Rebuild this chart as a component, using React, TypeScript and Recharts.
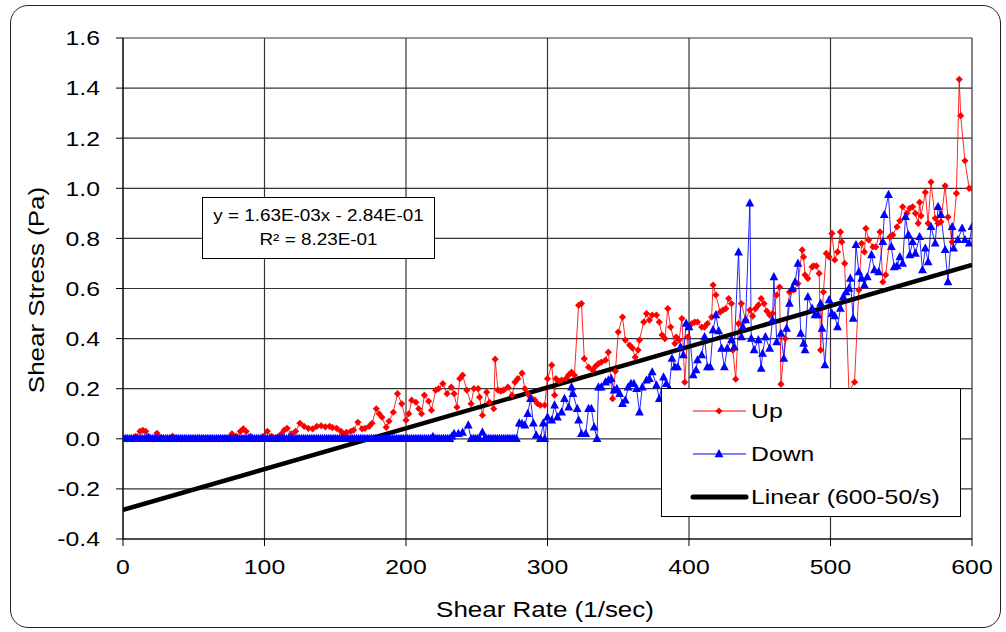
import { CartesianGrid, Legend, Line, LineChart, XAxis, YAxis } from 'recharts'

// Shear rate (1/sec) ticks and shear stress (Pa) ticks
const RATE_TICKS = [0, 100, 200, 300, 400, 500, 600]
const STRESS_TICKS = [-0.4, -0.2, 0, 0.2, 0.4, 0.6, 0.8, 1.0, 1.2, 1.4, 1.6]

// [shear rate, shear stress]
const UP: [number, number][] = [
  [0, 0], [3, 0], [6, 0], [9, 0.01], [12, 0.03], [14, 0.034], [16, 0.03], [18, 0.01],
  [21, 0], [24, 0.022], [27, 0.005], [30, 0], [33, 0], [35, 0.01], [38, 0], [41, 0],
  [44, 0], [47, 0], [50, 0], [53, 0], [56, 0], [59, 0], [62, 0], [65, 0], [68, 0],
  [71, 0], [74, 0], [77, 0.02], [80, 0.01], [83, 0.03], [85, 0.04], [87, 0.03], [90, 0.01],
  [93, 0], [96, 0], [99, 0.01], [102, 0.03], [105, 0.01], [108, 0], [110, 0.01], [112, 0.02],
  [114, 0.035], [116, 0.042], [119, 0.02], [122, 0.03], [125, 0.062], [128, 0.05], [131, 0.042],
  [134, 0.04], [137, 0.05], [140, 0.052], [143, 0.048], [146, 0.05], [148, 0.045], [151, 0.042],
  [154, 0.03], [156, 0.02], [158, 0.026], [161, 0.03], [163, 0.035], [166, 0.066], [169, 0.04],
  [171, 0.042], [174, 0.05], [176, 0.062], [179, 0.12], [181, 0.1], [183, 0.086], [186, 0.046],
  [188, 0.07], [191, 0.106], [194, 0.18], [197, 0.14], [200, 0.074], [202, 0.1], [204, 0.154],
  [207, 0.146], [209, 0.12], [211, 0.1], [213, 0.174], [216, 0.15], [218, 0.114], [221, 0.194],
  [223, 0.2], [226, 0.22], [229, 0.18], [232, 0.206], [234, 0.18], [236, 0.126], [238, 0.24],
  [240, 0.254], [243, 0.194], [246, 0.14], [248, 0.2], [251, 0.2], [252, 0.166], [254, 0.094],
  [257, 0.186], [259, 0.146], [262, 0.12], [263, 0.318], [265, 0.194], [267, 0.19], [269, 0.194],
  [272, 0.206], [275, 0.174], [277, 0.226], [279, 0.24], [282, 0.262], [284, 0.2], [286, 0.18],
  [288, 0.166], [291, 0.154], [293, 0.14], [295, 0.134], [298, 0.134], [300, 0.24], [303, 0.294],
  [305, 0.174], [306, 0.24], [308, 0.23], [310, 0.234], [313, 0.24], [315, 0.255], [317, 0.266],
  [319, 0.254], [322, 0.533], [324, 0.54], [326, 0.32], [329, 0.286], [332, 0.274], [334, 0.29],
  [336, 0.3], [338, 0.306], [341, 0.314], [343, 0.346], [346, 0.16], [348, 0.27], [350, 0.426],
  [353, 0.486], [355, 0.394], [358, 0.374], [360, 0.362], [362, 0.326], [364, 0.354], [365, 0.394],
  [368, 0.466], [370, 0.5], [372, 0.474], [374, 0.494], [377, 0.494], [379, 0.466], [381, 0.414],
  [383, 0.4], [385, 0.52], [387, 0.446], [390, 0.38], [391, 0.406], [393, 0.394], [395, 0.48],
  [397, 0.226], [399, 0.406], [402, 0.46], [404, 0.466], [406, 0.466], [409, 0.446], [411, 0.446],
  [413, 0.46], [416, 0.486], [417, 0.614], [419, 0.574], [422, 0.506], [424, 0.514], [426, 0.52],
  [428, 0.56], [430, 0.54], [431, 0.354], [433, 0.238], [435, 0.46], [437, 0.54], [440, 0.474],
  [443, 0.514], [445, 0.49], [447, 0.52], [449, 0.534], [451, 0.56], [453, 0.54], [455, 0.51],
  [457, 0.494], [459, 0.5], [462, 0.574], [464, 0.606], [465, 0.218], [468, 0.4], [471, 0.586],
  [474, 0.594], [477, 0.62], [480, 0.754], [481, 0.726], [482, 0.654], [484, 0.64], [487, 0.686],
  [488, 0.69], [490, 0.69], [492, 0.66], [493, 0.354], [495, 0.586], [497, 0.74], [499, 0.726],
  [501, 0.82], [503, 0.714], [505, 0.746], [507, 0.826], [508, 0.786], [510, 0.7], [513, 0.19],
  [517, 0.226], [520, 0.594], [522, 0.78], [524, 0.746], [525, 0.84], [527, 0.794], [530, 0.766],
  [532, 0.766], [535, 0.826], [537, 0.626], [539, 0.654], [542, 0.806], [544, 0.814], [547, 0.846],
  [549, 0.87], [551, 0.926], [554, 0.9], [556, 0.92], [558, 0.926], [560, 0.9], [562, 0.86],
  [563, 0.944], [564, 0.89], [567, 0.984], [569, 0.86], [571, 1.025], [574, 0.88], [576, 0.86],
  [578, 0.866], [581, 1.01], [583, 0.885], [586, 0.786], [589, 0.98], [591, 1.435], [592, 1.29],
  [595, 1.11], [598, 1.0], [600, 1.0],
]

// [shear rate, shear stress] (dense flat band at zero below ~280/s)
const DOWN: [number, number][] = [
  [0, 0], [1.5, 0], [3, 0], [4.5, 0], [6, 0], [7.5, 0], [9, 0], [10.5, 0], [12, 0], [13.5, 0],
  [15, 0], [16.5, 0], [18, 0], [19.5, 0], [21, 0], [22.5, 0], [24, 0], [25.5, 0], [27, 0], [28.5, 0],
  [30, 0], [31.5, 0], [33, 0], [34.5, 0], [36, 0], [37.5, 0], [39, 0], [40.5, 0], [42, 0], [43.5, 0],
  [45, 0], [46.5, 0], [48, 0], [49.5, 0], [51, 0], [52.5, 0], [54, 0], [55.5, 0], [57, 0], [58.5, 0],
  [60, 0], [61.5, 0], [63, 0], [64.5, 0], [66, 0], [67.5, 0], [69, 0], [70.5, 0], [72, 0], [73.5, 0],
  [75, 0], [76.5, 0], [78, 0], [79.5, 0], [81, 0], [82.5, 0], [84, 0], [85.5, 0], [87, 0], [88.5, 0],
  [90, 0], [91.5, 0], [93, 0], [94.5, 0], [96, 0], [97.5, 0], [99, 0], [100.5, 0], [102, 0], [103.5, 0],
  [105, 0], [106.5, 0], [108, 0], [109.5, 0], [111, 0], [112.5, 0], [114, 0], [115.5, 0], [117, 0], [118.5, 0],
  [120, 0], [121.5, 0], [123, 0], [124.5, 0], [126, 0], [127.5, 0], [129, 0], [130.5, 0], [132, 0], [133.5, 0],
  [135, 0], [136.5, 0], [138, 0], [139.5, 0], [141, 0], [142.5, 0], [144, 0], [145.5, 0], [147, 0], [148.5, 0],
  [150, 0], [151.5, 0], [153, 0], [154.5, 0], [156, 0], [157.5, 0], [159, 0], [160.5, 0], [162, 0], [163.5, 0],
  [165, 0], [166.5, 0], [168, 0], [169.5, 0], [171, 0], [172.5, 0], [174, 0], [175.5, 0], [177, 0], [178.5, 0],
  [180, 0], [181.5, 0], [183, 0], [184.5, 0], [186, 0], [187.5, 0], [189, 0], [190.5, 0], [192, 0], [193.5, 0],
  [195, 0], [196.5, 0], [198, 0], [199.5, 0], [201, 0], [202.5, 0], [204, 0], [205.5, 0], [207, 0], [208.5, 0],
  [210, 0], [211.5, 0], [213, 0], [214.5, 0], [216, 0], [217.5, 0], [219, 0.008], [220.5, 0], [222, 0], [223.5, 0],
  [225, 0], [226.5, 0], [228, 0], [229.5, 0], [231, 0], [232.5, 0.01],
  [234, 0.02], [237, 0.02], [240, 0.025], [244, 0.054], [246, 0], [247.5, 0], [249, 0], [250.5, 0],
  [252, 0], [254, 0.026], [255.5, 0], [257, 0], [258.5, 0], [260, 0], [261.5, 0], [263, 0], [264.5, 0],
  [266, 0], [267.5, 0], [269, 0], [270.5, 0], [272, 0], [273.5, 0], [275, 0], [276.5, 0], [278, 0],
  [280, 0.062], [282, 0.06], [284, 0.054], [286, 0.1], [288, 0.16], [290, 0.062], [292, 0.014], [295, 0],
  [297, 0.062], [298, 0], [300, 0.086], [303, 0.074], [305, 0.134], [307, 0.086], [310, 0.106],
  [312, 0.16], [315, 0.126], [317, 0.206], [318, 0.18], [321, 0.12], [322, 0.074], [324, 0.02],
  [327, 0.02], [329, 0.12], [331, 0.12], [333, 0.046], [335, 0], [336, 0.206], [338, 0.206],
  [341, 0.226], [343, 0.234], [345, 0.24], [347, 0.194], [349, 0.2], [351, 0.18], [353, 0.14],
  [355, 0.154], [357, 0.206], [359, 0.22], [361, 0.22], [363, 0.2], [365, 0.106], [367, 0.206],
  [370, 0.234], [372, 0.24], [374, 0.266], [377, 0.214], [379, 0.16], [382, 0.246], [384, 0.22],
  [386, 0.2], [388, 0.32], [390, 0.286], [392, 0.286], [394, 0.366], [396, 0.334], [398, 0.46],
  [400, 0.446], [403, 0.254], [405, 0.274], [406, 0.314], [409, 0.334], [411, 0.406], [413, 0.286],
  [415, 0.286], [417, 0.434], [419, 0.494], [421, 0.43], [423, 0.36], [425, 0.286], [427, 0.36],
  [430, 0.394], [432, 0.366], [435, 0.745], [437, 0.406], [438, 0.446], [440, 0.474], [443, 0.94],
  [444, 0.4], [446, 0.354], [449, 0.394], [451, 0.28], [452, 0.34], [454, 0.406], [457, 0.36],
  [459, 0.474], [460, 0.646], [462, 0.386], [465, 0.42], [467, 0.32], [469, 0.44], [471, 0.54],
  [473, 0.6], [475, 0.626], [477, 0.7], [479, 0.42], [481, 0.38], [482, 0.354], [484, 0.566],
  [487, 0.52], [489, 0.494], [491, 0.494], [493, 0.54], [494, 0.44], [496, 0.294], [499, 0.554],
  [501, 0.5], [503, 0.49], [505, 0.446], [507, 0.52], [509, 0.566], [511, 0.586], [513, 0.6],
  [514, 0.64], [516, 0.48], [518, 0.774], [520, 0.666], [522, 0.64], [524, 0.614], [526, 0.646],
  [529, 0.734], [531, 0.674], [534, 0.666], [537, 0.786], [538, 0.894], [541, 0.974], [543, 0.766],
  [545, 0.686], [547, 0.69], [549, 0.726], [551, 0.7], [553, 0.886], [555, 0.814], [556, 0.734],
  [558, 0.786], [560, 0.74], [563, 0.806], [565, 0.674], [567, 0.76], [569, 0.706], [571, 0.846],
  [574, 0.78], [576, 0.926], [578, 0.894], [581, 0.754], [583, 0.626], [586, 0.846], [587, 0.76],
  [590, 0.794], [593, 0.84], [595, 0.794], [598, 0.78], [600, 0.846],
]

// Linear fit over 600-50/s: y = 1.63E-03x - 2.84E-01, endpoints at 0 and 600
const FIT: [number, number][] = [[0, -0.284], [600, 0.694]]

const FONT = "Arial, 'Liberation Sans', sans-serif"
// the original picture is stretched horizontally, so text gets a little wider
const STRETCH = 1.18

const toRows = (pts: [number, number][]) => pts.map(([rate, stress]) => ({ rate, stress }))

function Diamond({ cx, cy, fill }: { cx: number; cy: number; fill: string }) {
  return <path d={`M${cx},${cy - 3.6}L${cx + 3.6},${cy}L${cx},${cy + 3.6}L${cx - 3.6},${cy}Z`} fill={fill} />
}

function Triangle({ cx, cy, fill }: { cx: number; cy: number; fill: string }) {
  return <path d={`M${cx},${cy - 5}L${cx + 4.4},${cy + 3.2}L${cx - 4.4},${cy + 3.2}Z`} fill={fill} />
}

function YTick({ x, y, payload }: any) {
  return (
    <text transform={`translate(${x},${y}) scale(${STRETCH},1)`} textAnchor="end" dominantBaseline="central"
      fontSize={21} fontFamily={FONT} fill="#000">
      {Number(payload.value).toFixed(1)}
    </text>
  )
}

function XTick({ x, y, payload }: any) {
  return (
    <text transform={`translate(${x},${y + 11}) scale(${STRETCH},1)`} textAnchor="middle" dominantBaseline="central"
      fontSize={21} fontFamily={FONT} fill="#000">
      {payload.value}
    </text>
  )
}

function LegendBox() {
  const rows = [
    { label: 'Up', color: '#FF0000', mark: 'diamond', w: 1 },
    { label: 'Down', color: '#0000FF', mark: 'triangle', w: 1 },
    { label: 'Linear (600-50/s)', color: '#000', mark: '', w: 5 },
  ]
  return (
    <div style={{ width: 300, height: 129, boxSizing: 'border-box', border: '1px solid #000', background: '#fff', position: 'relative' }}>
      {rows.map((r, i) => (
        <div key={r.label} style={{ position: 'absolute', left: 0, top: 8 + i * 43, height: 28, width: 300 }}>
          <svg width={60} height={28} style={{ position: 'absolute', left: 28, top: 0 }}>
            <line x1={3} x2={56} y1={14} y2={14} stroke={r.color} strokeWidth={r.w} strokeLinecap={r.w > 1 ? 'round' : 'butt'} />
            {r.mark === 'diamond' && <Diamond cx={29} cy={14} fill={r.color} />}
            {r.mark === 'triangle' && <Triangle cx={29} cy={14} fill={r.color} />}
          </svg>
          <span style={{ position: 'absolute', left: 89, top: 0, lineHeight: '28px', fontSize: 21, fontFamily: FONT,
            transform: `scaleX(${STRETCH})`, transformOrigin: 'left center', whiteSpace: 'nowrap' }}>
            {r.label}
          </span>
        </div>
      ))}
    </div>
  )
}

export default function App() {
  const up = toRows(UP)
  const down = toRows(DOWN)
  const fit = toRows(FIT)
  return (
    <div style={{ position: 'absolute', left: 0, top: 0, width: 1006, height: 632, background: '#fff', fontFamily: FONT }}>
      <div style={{ position: 'absolute', left: 10, top: 5, width: 991, height: 623, boxSizing: 'border-box',
        border: '1.5px solid #222', borderRadius: 18 }} />
      <LineChart width={1006} height={632} margin={{ top: 38, right: 34, bottom: 53, left: 63 }}>
        <CartesianGrid stroke="#333" strokeWidth={1.2} />
        <XAxis dataKey="rate" type="number" domain={[0, 600]} ticks={RATE_TICKS} allowDataOverflow
          height={40} tickSize={7} tickMargin={10} tick={<XTick />} axisLine={{ stroke: '#000' }} tickLine={{ stroke: '#000' }} />
        <YAxis dataKey="stress" type="number" domain={[-0.4, 1.6]} ticks={STRESS_TICKS} allowDataOverflow
          width={60} tickSize={7} tickMargin={16} tick={<YTick />} axisLine={{ stroke: '#000' }} tickLine={{ stroke: '#000' }} />
        <Legend layout="vertical" align="center" verticalAlign="middle" content={() => <LegendBox />}
          wrapperStyle={{ position: 'absolute', left: 661, top: 388, width: 300, height: 129 }} />
        <Line data={up} dataKey="stress" name="Up" stroke="#FF0000" strokeWidth={1} strokeOpacity={0.85}
          dot={(p: any) => <Diamond key={`u${p.index}`} cx={p.cx} cy={p.cy} fill="#FF0000" />}
          activeDot={false} isAnimationActive={false} />
        <Line data={down} dataKey="stress" name="Down" stroke="#0000FF" strokeWidth={1} strokeOpacity={0.85}
          dot={(p: any) => <Triangle key={`d${p.index}`} cx={p.cx} cy={p.cy} fill="#0000FF" />}
          activeDot={false} isAnimationActive={false} />
        <Line data={fit} dataKey="stress" name="Linear (600-50/s)" stroke="#000" strokeWidth={4.5}
          dot={false} activeDot={false} isAnimationActive={false} />
      </LineChart>
      <div style={{ position: 'absolute', left: 202, top: 197, width: 233, height: 62, boxSizing: 'border-box',
        border: '1px solid #000', background: '#fff', textAlign: 'center', fontSize: 16, lineHeight: '24px', paddingTop: 6 }}>
        <div style={{ transform: `scaleX(${STRETCH})` }}>y = 1.63E-03x - 2.84E-01</div>
        <div style={{ transform: `scaleX(${STRETCH})` }}>R² = 8.23E-01</div>
      </div>
      <div style={{ position: 'absolute', left: 37, top: 290, transform: `translate(-50%,-50%) rotate(-90deg) scaleX(${STRETCH})`,
        fontSize: 22, whiteSpace: 'nowrap' }}>
        Shear Stress (Pa)
      </div>
      <div style={{ position: 'absolute', left: 545, top: 610, transform: `translate(-50%,-50%) scaleX(${STRETCH})`,
        fontSize: 22, whiteSpace: 'nowrap' }}>
        Shear Rate (1/sec)
      </div>
    </div>
  )
}
